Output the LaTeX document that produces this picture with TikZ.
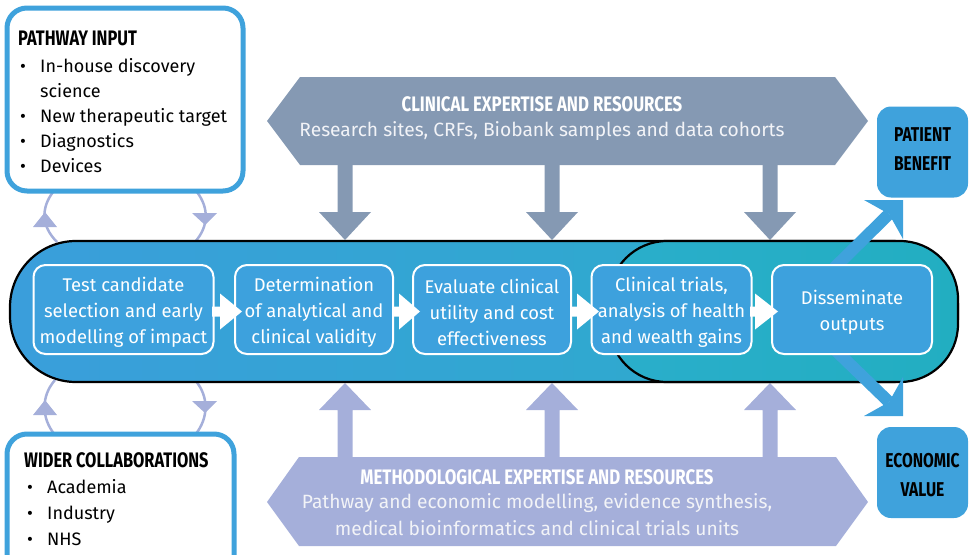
\documentclass[tikz,border=0pt]{standalone}
\usepackage{fontspec}
\setmainfont{Fira Sans}
\newfontfamily\hfont{Fira Sans}[FakeStretch=0.78]
\newfontfamily\hxfont{Fira Sans}[FakeStretch=0.8]
\definecolor{boxblue}{HTML}{3FA2DC}
\definecolor{pboxfill}{HTML}{3DA1DD}
\definecolor{barL}{HTML}{3A9EDB}
\definecolor{barR}{HTML}{2AAEC9}
\definecolor{innL}{HTML}{2AAECB}
\definecolor{innR}{HTML}{22AEC1}
\definecolor{cgray}{HTML}{8599B3}
\definecolor{lav}{HTML}{A5AFDA}
\definecolor{softw}{HTML}{F2F3F7}
\tikzset{
  hd/.style={font=\hfont\bfseries\fontsize{21}{25}\selectfont, inner sep=0pt},
  hxhd/.style={font=\hxfont\bfseries\fontsize{21}{25}\selectfont, inner sep=0pt, text=white},
  body/.style={font=\fontsize{18}{25}\selectfont, inner sep=0pt},
  hxbody/.style={font=\fontsize{19.2}{25}\selectfont, inner sep=0pt, text=softw},
  pbox/.style={draw=white, line width=2pt, fill=pboxfill, rounded corners=12pt, inner sep=0pt},
  ptext/.style={text=white, align=center, font=\fontsize{18.4}{26}\selectfont, inner sep=0pt},
  obox/.style={fill=boxblue, rounded corners=14pt, minimum width=91pt, minimum height=91pt, inner sep=0pt},
  otext/.style={align=center, font=\hfont\bfseries\fontsize{20}{29}\selectfont, inner sep=0pt},
  frame/.style={draw=boxblue, line width=5pt, rounded corners=20pt},
  cyc/.style={draw=lav, line width=2.5pt},
}
\newcommand\vblock[6]{\fill (#1-#5,#2) -- (#1-#5,#3) -- (#1-#6,#3) -- (#1,#4) -- (#1+#6,#3) -- (#1+#5,#3) -- (#1+#5,#2) -- cycle;}
\newcommand\hblock[6]{\fill[white] (#2,#1-#5) -- (#3,#1-#5) -- (#3,#1-#6) -- (#4,#1) -- (#3,#1+#6) -- (#3,#1+#5) -- (#2,#1+#5) -- cycle;}
\begin{document}
\begin{tikzpicture}[x=1pt,y=-1pt]
\useasboundingbox (0,0) rectangle (973,554);
\clip (0,0) rectangle (973,554);

% ---- top hexagon (clinical)
\fill[cgray] (267,121) -- (300,77) -- (835,77) -- (868,121) -- (835,165) -- (300,165) -- cycle;
\node[hxhd] (ch) at (542,104) {CLINICAL EXPERTISE AND RESOURCES};
\node[hxbody] (cs) at (542,131) {Research sites, CRFs, Biobank samples and data cohorts};
\begin{scope}[cgray]
\vblock{345}{160}{212}{240}{7.5}{26}
\vblock{552}{160}{212}{240}{7.5}{26}
\vblock{770}{160}{212}{240}{7.5}{26}
\end{scope}

% ---- bottom hexagon (methodological)
\fill[lav] (267,502) -- (299,457) -- (836,457) -- (868,502) -- (836,546) -- (299,546) -- cycle;
\node[hxhd] (mh) at (537,477) {METHODOLOGICAL EXPERTISE AND RESOURCES};
\node[hxbody] (ms1) at (537,503) {Pathway and economic modelling, evidence synthesis,};
\node[hxbody] (ms2) at (537,528) {medical bioinformatics and clinical trials units};
\begin{scope}[lav]
\vblock{345}{462}{410}{383}{7.5}{26}
\vblock{552}{462}{410}{383}{7.5}{26}
\vblock{770}{462}{410}{383}{7.5}{26}
\end{scope}

% ---- cycle arcs
\draw[cyc] (53,192) .. controls (41,208) and (41,226) .. (57,242);
\fill[lav] (45,212) -- (33,227) -- (57,227) -- cycle;
\draw[cyc] (197,192) .. controls (209,208) and (209,226) .. (195,242);
\fill[lav] (192,213) -- (217,213) -- (205,225) -- cycle;
\draw[cyc] (55,380) .. controls (41,396) and (41,418) .. (55,435);
\fill[lav] (45,400) -- (33,415) -- (57,415) -- cycle;
\draw[cyc] (195,380) .. controls (209,396) and (209,418) .. (195,435);
\fill[lav] (192,401) -- (217,401) -- (205,413) -- cycle;

% ---- main bar
\path[draw=black, line width=2.2pt, left color=barL, right color=barR, rounded corners=66pt] (10,241) rectangle (958,382);
\path[draw=black, line width=2.2pt, left color=innL, right color=innR, rounded corners=58pt] (609,241) rectangle (958,382);

% ---- outcome arrows
\draw[boxblue, line width=12pt] (828,274) -- (889,214);
\fill[boxblue] (903,200) -- (864,200) -- (889,214) -- (903,239) -- cycle;
\draw[boxblue, line width=12pt] (828,343) -- (889,402);
\fill[boxblue] (903,416) -- (864,416) -- (889,402) -- (903,377) -- cycle;

% ---- process boxes
\node[pbox, minimum width=180pt, minimum height=89pt] (b1) at (123.5,309.5) {};
\node[pbox, minimum width=158pt, minimum height=89pt] (b2) at (314,309.5) {};
\node[pbox, minimum width=158pt, minimum height=89pt] (b3) at (492,309.5) {};
\node[pbox, minimum width=160pt, minimum height=89pt] (b4) at (671.5,309.5) {};
\node[pbox, minimum width=160pt, minimum height=89pt] (b5) at (852,309.5) {};
\node[ptext] (t1) at (123.5,312.5) {Test candidate\\selection and early\\modelling of impact};
\node[ptext] (t2) at (314,312.5) {Determination\\of analytical and\\clinical validity};
\node[ptext] (t3) at (492,312.5) {Evaluate clinical\\utility and cost\\effectiveness};
\node[ptext] (t4) at (671.5,312.5) {Clinical trials,\\analysis of health\\and wealth gains};
\node[ptext] (t5) at (852,312.5) {Disseminate\\outputs};
\hblock{311.5}{212}{220}{242}{5}{18}
\hblock{311.5}{392}{399}{420}{5}{18}
\hblock{311.5}{570}{577}{599}{5}{18}
\hblock{311.5}{750}{755}{778}{5}{18}

% ---- pathway input
\draw[frame, fill=white] (7,8) rectangle (243,191);
\node[hd, anchor=base west] (pi) at (18,45) {PATHWAY INPUT};
\node[body, anchor=base west] (pb1) at (20,72) {•};
\node[body, anchor=base west] (pt1) at (40,72) {In-house discovery};
\node[body, anchor=base west] (pt1b) at (40,97) {science};
\node[body, anchor=base west] (pb2) at (20,122) {•};
\node[body, anchor=base west] (pt2) at (40,122) {New therapeutic target};
\node[body, anchor=base west] (pb3) at (20,147) {•};
\node[body, anchor=base west] (pt3) at (40,147) {Diagnostics};
\node[body, anchor=base west] (pb4) at (20,172) {•};
\node[body, anchor=base west] (pt4) at (40,172) {Devices};

% ---- wider collaborations
\draw[frame, fill=white] (7,434) rectangle (234,580);
\node[hd, anchor=base west] (wc) at (24,467) {WIDER COLLABORATIONS};
\node[body, anchor=base west] (wb1) at (27,493) {•};
\node[body, anchor=base west] (wt1) at (47,493) {Academia};
\node[body, anchor=base west] (wb2) at (27,519) {•};
\node[body, anchor=base west] (wt2) at (47,519) {Industry};
\node[body, anchor=base west] (wb3) at (27,545) {•};
\node[body, anchor=base west] (wt3) at (47,545) {NHS};

% ---- outcome boxes
\node[obox] (pbn) at (922.5,152) {};
\node[otext] (pbt) at (922.5,149) {PATIENT\\BENEFIT};
\node[obox] (ev) at (922.5,472.5) {};
\node[otext] (evt) at (922.5,475) {ECONOMIC\\VALUE};
\end{tikzpicture}
\end{document}
